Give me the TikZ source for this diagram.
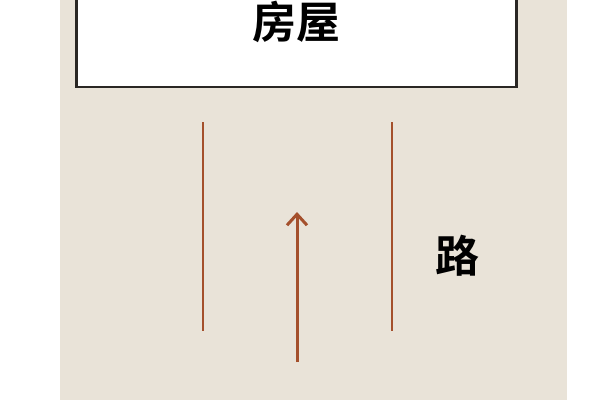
\documentclass[tikz,border=0pt]{standalone}
\usepackage{fontspec}
\newfontfamily\cjk{Noto Sans CJK SC}[BoldFont={Noto Sans CJK SC Bold}]
\definecolor{paper}{HTML}{E9E3D8}
\definecolor{road}{HTML}{A4502C}
\definecolor{frame}{HTML}{2A2724}
\usetikzlibrary{arrows.meta}
\tikzset{
  house/.style={draw=frame, line width=2.5pt, fill=white, minimum width=440pt, minimum height=100pt, inner sep=0pt},
  label/.style={font=\cjk\bfseries\fontsize{44}{48}\selectfont, text=black, inner sep=0pt},
  roadedge/.style={draw=road, line width=2.2pt},
  dir/.style={draw=road, line width=3pt, -{Straight Barb[length=11pt,width=20pt,line width=3pt]}}
}
\begin{document}
\begin{tikzpicture}[x=1pt,y=-1pt]
\useasboundingbox (0,0) rectangle (600,400);
\fill[white] (0,0) rectangle (600,400);
\fill[paper] (60,0) rectangle (567,400);
\node[house, anchor=south west] (house) at (75,88) {};
\node[label] (houselabel) at (296,22) {房屋};
\coordinate (l1) at (203,122);
\coordinate (l2) at (203,331);
\coordinate (r1) at (392,122);
\coordinate (r2) at (392,331);
\coordinate (a1) at (297,362);
\coordinate (a2) at (297,212);
\draw[roadedge] (l1) -- (l2);
\draw[roadedge] (r1) -- (r2);
\draw[dir] (a1) -- (a2);
\node[label] (roadlabel) at (457,256) {路};
\end{tikzpicture}
\end{document}
